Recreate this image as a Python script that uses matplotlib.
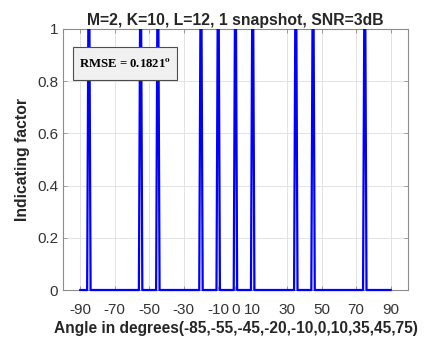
import matplotlib
matplotlib.use("Agg")
import matplotlib.pyplot as plt
import numpy as np
from matplotlib.patches import Rectangle
from matplotlib.transforms import Bbox, TransformedBbox

# estimated DOAs (deg) and the scan grid of the indicating spectrum
scan_angles = np.arange(-90, 91, 1)
est_angles = [-85, -55, -45, -20, -10, 0, 10, 35, 45, 75]
peak_height = 1.5  # spikes run off the top of the axes
rmse_deg = 0.1821

indicator = np.zeros(len(scan_angles))
for a in est_angles:
    indicator[scan_angles == a] = peak_height

plt.rcParams["font.family"] = ["Liberation Sans", "DejaVu Sans"]
plt.rcParams["mathtext.fontset"] = "stix"
plt.rcParams["axes.unicode_minus"] = False

fig = plt.figure(figsize=(4.24, 3.43), dpi=100)
fig.patch.set_facecolor("white")
ax = fig.add_axes([0.1486, 0.1545, 0.8134, 0.761])

line, = ax.plot(scan_angles, indicator, color="#0000ff", lw=1.6, zorder=3)
# clip at the top of the axes only, so the zero line shows its full width
line.set_clip_box(TransformedBbox(Bbox([[-100, -0.05], [100, 1]]), ax.transData))

ax.set_xlim(-100, 100)
ax.set_ylim(0, 1)
ax.set_xticks([-90, -70, -50, -30, -10, 0, 10, 30, 50, 70, 90])
ax.set_yticks([0, 0.2, 0.4, 0.6, 0.8, 1])
ax.set_yticklabels(["0", "0.2", "0.4", "0.6", "0.8", "1"])
ax.grid(True, color="#e3e3e3", lw=0.7, zorder=0)
ax.set_axisbelow(True)

for s in ax.spines.values():
    s.set_color("#8c8c8c")
    s.set_linewidth(0.8)
ax.tick_params(direction="in", length=3, width=0.6, colors="#8c8c8c",
               labelcolor="#333333", labelsize=11, top=True, right=True)
ax.tick_params(axis="x", pad=9)

ax.set_title("M=2, K=10, L=12, 1 snapshot, SNR=3dB", fontsize=11.3,
             fontweight="bold", color="#262626", pad=3)
ax.set_xlabel("Angle in degrees(-85,-55,-45,-20,-10,0,10,35,45,75)",
              fontsize=11.2, fontweight="bold", color="#262626", labelpad=3)
ax.set_ylabel("Indicating factor", fontsize=11.3, fontweight="bold",
              color="#262626", labelpad=5)

# RMSE annotation box
ax.add_patch(Rectangle((0.029, 0.805), 0.301, 0.126, transform=ax.transAxes,
                       facecolor="#f0f0f0", edgecolor="#4d4d4d", lw=0.8,
                       zorder=5))
ax.text(0.18, 0.866, f"RMSE = {rmse_deg:.4f}$^{{\\mathbf{{o}}}}$",
        transform=ax.transAxes, ha="center", va="center", fontsize=9.2,
        fontweight="bold", family="Liberation Serif", color="#000000",
        zorder=6)

fig.savefig("out.png", dpi=100)
